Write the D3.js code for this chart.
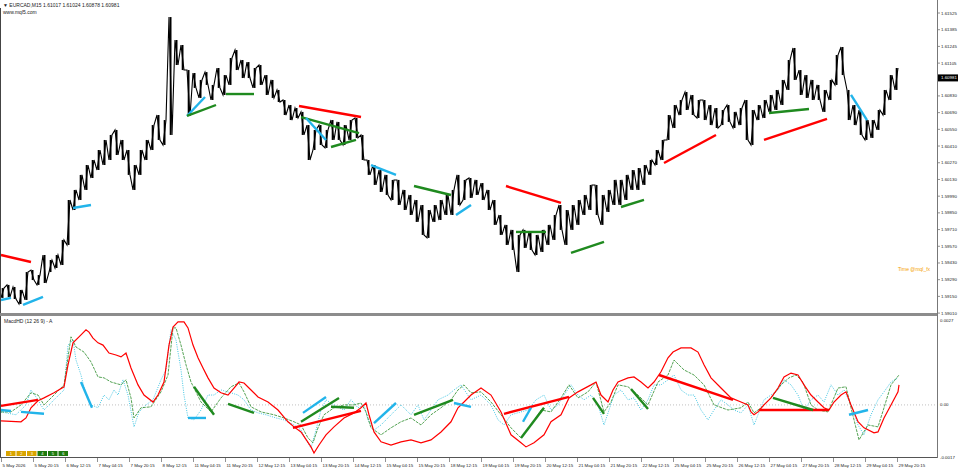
<!DOCTYPE html>
<html><head><meta charset="utf-8">
<script src="https://cdn.jsdelivr.net/npm/d3@7"></script>
<style>
body{margin:0;background:#fff}
svg{display:block}
text{font-family:"Liberation Sans",Arial,sans-serif;fill:#222}
</style>
</head><body>
<svg id="chart" width="960" height="472"></svg>
<script>
// time unit: trading hours from the first bar, one price sample every 3 hours
var priceHigh = [1.59220,1.59246,1.59229,1.59204,1.59354,1.59371,1.59329,1.59497,1.59455,1.59497,
1.59623,1.59958,1.60042,1.60168,1.60251,1.60293,1.60377,1.60461,1.60503,1.60545,
1.60461,1.60377,1.60251,1.60377,1.60461,1.60586,1.60670,1.60628,1.61491,1.61299,
1.61257,1.61047,1.61022,1.60964,1.61030,1.60922,1.61064,1.61005,1.61148,1.61215,
1.61131,1.61114,1.61064,1.61089,1.61005,1.60964,1.60880,1.60796,1.60754,1.60729,
1.60696,1.60586,1.60545,1.60586,1.60545,1.60628,1.60612,1.60586,1.60628,1.60645,
1.60503,1.60293,1.60251,1.60209,1.60168,1.60126,1.60126,1.60042,1.60000,1.59958,
1.59916,1.59874,1.59916,1.59958,1.60000,1.60042,1.60168,1.60126,1.60142,1.60126,
1.60100,1.60042,1.59958,1.59832,1.59749,1.59707,1.59665,1.59707,1.59690,1.59665,
1.59707,1.59749,1.59832,1.59916,1.59874,1.59916,1.59958,1.60000,1.60084,1.60084,
1.60000,1.60042,1.60126,1.60126,1.60168,1.60209,1.60226,1.60251,1.60293,1.60377,
1.60461,1.60670,1.60754,1.60796,1.60863,1.60838,1.60796,1.60796,1.60754,1.60729,
1.60712,1.60754,1.60696,1.60729,1.60796,1.60712,1.60754,1.60796,1.60838,1.60880,
1.60964,1.61131,1.61232,1.61047,1.61005,1.60964,1.60922,1.60880,1.60964,1.61173,
1.61240,1.60880,1.60754,1.60712,1.60628,1.60628,1.60712,1.60880,1.61005,1.61064];
var priceLow = [1.59137,1.59145,1.59128,1.59086,1.59120,1.59287,1.59246,1.59262,1.59354,1.59388,
1.59413,1.59581,1.59874,1.59958,1.60042,1.60142,1.60209,1.60251,1.60293,1.60335,
1.60293,1.60168,1.60042,1.60168,1.60293,1.60377,1.60461,1.60419,1.60503,1.61089,
1.61047,1.60662,1.60897,1.60813,1.60922,1.60796,1.60897,1.60838,1.60922,1.61047,
1.60980,1.60980,1.60897,1.60922,1.60838,1.60813,1.60779,1.60670,1.60628,1.60645,
1.60503,1.60293,1.60377,1.60419,1.60394,1.60461,1.60461,1.60419,1.60461,1.60478,
1.60293,1.60168,1.60084,1.60025,1.60000,1.59958,1.59916,1.59874,1.59832,1.59774,
1.59665,1.59640,1.59774,1.59790,1.59832,1.59832,1.59916,1.59958,1.59975,1.60000,
1.59958,1.59874,1.59749,1.59665,1.59581,1.59539,1.59354,1.59556,1.59539,1.59497,
1.59522,1.59581,1.59623,1.59707,1.59581,1.59707,1.59749,1.59832,1.59874,1.59832,
1.59749,1.59857,1.59916,1.59916,1.59958,1.60042,1.60042,1.60084,1.60168,1.60251,
1.60293,1.60461,1.60561,1.60670,1.60712,1.60670,1.60645,1.60628,1.60586,1.60561,
1.60586,1.60612,1.60561,1.60586,1.60461,1.60419,1.60628,1.60645,1.60696,1.60712,
1.60754,1.60880,1.60964,1.60838,1.60813,1.60796,1.60796,1.60696,1.60796,1.60922,
1.61005,1.60628,1.60586,1.60503,1.60461,1.60478,1.60545,1.60670,1.60796,1.60880];

// MACD panel lines: [hour, value]
var macdRed = [[0,-0.00050],[10,-0.00053],[12.5,-0.00041],[15,-0.00009],[18.5,0.00013],[21.5,0.00022],[26.5,0.00038],[31.5,0.00057],
[33.5,0.00126],[36,0.00195],[40,0.00220],[42.5,0.00236],[44,0.00229],[46,0.00210],[48.5,0.00195],[51,0.00188],[54,0.00163],
[57.5,0.00157],[60,0.00151],[62.5,0.00163],[65,0.00116],[68.5,0.00063],[71.5,0.00031],[76,0.00009],[78.5,0.00031],[81.5,0.00072],
[84,0.00188],[86,0.00245],[88.5,0.00261],[91.5,0.00261],[93.5,0.00242],[96,0.00188],[98.5,0.00148],[101,0.00116],[103.5,0.00085],
[106.5,0.00053],[110,0.00038],[113.5,0.00031],[116.5,0.00053],[119,0.00072],[121.5,0.00069],[125,0.00047],[128.5,0.00025],
[133.5,0.00009],[138.5,-0.00016],[143.5,-0.00053],[146.5,-0.00069],[150,-0.00085],[155,-0.00132],[156.5,-0.00151],[159,-0.00126],
[162.5,-0.00094],[166.5,-0.00069],[171.5,-0.00041],[176.5,-0.00025],[180,-0.00009],[182.5,0.00006],[184,-0.00031],[186.5,-0.00085],
[190,-0.00116],[195,-0.00126],[200,-0.00116],[205,-0.00110],[210,-0.00119],[215,-0.00110],[220,-0.00085],[225,-0.00053],
[228.5,-0.00009],[231.5,0.00009],[235,0.00031],[240,0.00053],[245,0.00031],[250,-0.00022],[255,-0.00094],[260,-0.00119],
[262.5,-0.00132],[266.5,-0.00119],[271.5,-0.00094],[275,-0.00053],[280,-0.00031],[284,0.00022],[288.5,0.00041],[295,0.00063],
[297.5,0.00072],[300,0.00031],[303.5,0.00009],[306,0.00047],[308.5,0.00072],[313.5,0.00085],[316.5,0.00088],[320,0.00072],
[323.5,0.00053],[326.5,0.00072],[330,0.00104],[333.5,0.00148],[336,0.00166],[340,0.00179],[345,0.00179],[348.5,0.00166],
[351.5,0.00126],[355,0.00085],[360,0.00053],[365,0.00022],[370,0.00009],[373.5,0.00000],[375,-0.00022],[376.5,-0.00031],
[378.5,-0.00022],[381.5,0.00000],[385,0.00022],[388.5,0.00053],[391.5,0.00088],[395,0.00100],[398.5,0.00094],[401.5,0.00063],
[405,0.00031],[408.5,0.00009],[411.5,-0.00009],[414,-0.00016],[416.5,0.00009],[420,0.00031],[422.5,0.00041],[425,0.00000],
[428.5,-0.00053],[431.5,-0.00072],[436.5,-0.00088],[438.5,-0.00085],[441.5,-0.00041],[445,0.00000],[448.5,0.00041],[449,0.00063]];

var macdGreen = [[0,-0.00022],[5,-0.00022],[10,0.00000],[15,0.00038],[18.5,0.00031],[21.5,0.00000],[26.5,0.00031],[31.5,0.00063],
[35,0.00214],[37.5,0.00182],[41.5,0.00166],[45,0.00135],[48.5,0.00088],[51.5,0.00085],[55,0.00072],[60,0.00063],[62.5,0.00079],
[65,0.00022],[66.5,-0.00041],[70,-0.00009],[75,-0.00006],[80,0.00041],[83.5,0.00094],[86,0.00242],[87.5,0.00242],[90,0.00188],
[92.5,0.00126],[95,0.00072],[100,0.00009],[105,-0.00022],[110,0.00022],[115,0.00057],[119,0.00069],[121.5,0.00041],[125,-0.00006],
[130,-0.00022],[136.5,-0.00031],[141.5,-0.00041],[146.5,-0.00053],[150,-0.00063],[153.5,-0.00104],[156,-0.00119],[158.5,-0.00072],
[161.5,-0.00031],[166.5,-0.00009],[171.5,0.00000],[176.5,0.00000],[180,0.00006],[182.5,-0.00022],[185,-0.00072],[190,-0.00094],
[195,-0.00072],[200,-0.00053],[205,-0.00041],[210,-0.00063],[215,-0.00031],[220,-0.00009],[225,0.00016],[228.5,0.00047],
[231.5,0.00063],[235,0.00038],[240,0.00041],[245,0.00009],[250,-0.00031],[255,-0.00072],[260,-0.00104],[265,-0.00063],
[270,-0.00016],[275,-0.00022],[280,0.00022],[284,0.00063],[288.5,0.00022],[293.5,0.00041],[297.5,0.00072],[301.5,-0.00022],
[305,0.00009],[308.5,0.00063],[313.5,0.00057],[318.5,0.00031],[323.5,0.00000],[328.5,0.00072],[333.5,0.00094],[336.5,0.00141],
[341.5,0.00110],[346.5,0.00094],[351.5,0.00063],[356.5,0.00000],[363.5,-0.00016],[370,-0.00009],[373.5,0.00009],[376.5,-0.00025],
[380,-0.00009],[385,0.00022],[390,0.00063],[394,0.00085],[397.5,0.00094],[401,0.00072],[405,0.00000],[408.5,-0.00016],
[413.5,-0.00022],[418.5,0.00053],[422.5,0.00057],[425,-0.00009],[429,-0.00110],[433.5,-0.00063],[438.5,-0.00069],[441.5,-0.00009],
[445,0.00063],[449,0.00094]];

var macdCyan = [[0,-0.00022],[7.5,-0.00031],[12.5,0.00000],[15,0.00047],[18.5,0.00016],[21.5,-0.00016],[26.5,0.00016],[31.5,0.00047],
[33.5,0.00188],[36,0.00204],[37.5,0.00141],[40,0.00094],[42.5,0.00031],[45,0.00000],[48.5,-0.00009],[51.5,0.00031],[54,0.00016],
[56.5,0.00047],[58.5,0.00031],[61,0.00079],[63.5,0.00031],[66.5,-0.00069],[69,-0.00022],[72.5,0.00000],[76,0.00016],[80,0.00079],
[82.5,0.00110],[85,0.00236],[87.5,0.00204],[90,0.00110],[91.5,0.00031],[93.5,-0.00041],[96.5,-0.00047],[100,-0.00016],
[103.5,0.00031],[106.5,0.00031],[110,0.00047],[115,0.00038],[118.5,0.00031],[121.5,0.00016],[125,-0.00016],[128.5,-0.00025],
[132.5,-0.00031],[137.5,-0.00041],[141.5,-0.00047],[146.5,-0.00063],[150,-0.00079],[152.5,-0.00110],[155,-0.00135],[157.5,-0.00079],
[160,-0.00016],[162.5,0.00016],[166.5,0.00000],[171.5,-0.00016],[175,0.00016],[178.5,-0.00009],[181.5,0.00000],[183.5,-0.00047],
[186.5,-0.00079],[190,-0.00063],[195,-0.00031],[200,0.00000],[205,-0.00031],[208.5,0.00000],[211.5,-0.00047],[215,-0.00016],
[218.5,0.00016],[223.5,0.00031],[226.5,0.00047],[230,0.00063],[235,0.00016],[240,0.00031],[245,0.00000],[248.5,-0.00047],
[251.5,-0.00063],[255,-0.00031],[260,-0.00022],[263.5,-0.00016],[267.5,0.00016],[271.5,0.00031],[275,-0.00016],[278.5,0.00000],
[281.5,0.00031],[285,0.00063],[288.5,0.00031],[291.5,0.00016],[295,0.00031],[298.5,0.00000],[301.5,-0.00063],[304,-0.00016],
[306.5,0.00031],[310,0.00047],[313.5,0.00016],[316.5,0.00022],[320,-0.00016],[323.5,0.00016],[326.5,0.00063],[330,0.00063],
[333.5,0.00079],[336.5,0.00094],[340,0.00047],[343.5,0.00031],[346.5,0.00031],[350,-0.00016],[353.5,-0.00047],[356.5,-0.00016],
[360,0.00016],[363.5,0.00000],[366.5,-0.00016],[370,-0.00025],[373.5,0.00000],[376.5,-0.00063],[378.5,-0.00031],[381.5,0.00016],
[385,0.00031],[388.5,0.00047],[391.5,0.00079],[395,0.00063],[398.5,0.00031],[401.5,-0.00016],[405,0.00016],[408.5,0.00031],
[411.5,0.00009],[415,0.00063],[418.5,0.00031],[421.5,0.00047],[425,0.00000],[428.5,-0.00063],[431.5,-0.00094],[435,-0.00031],
[438.5,0.00016],[441.5,0.00041],[445,0.00072],[448.5,0.00085]];

// divergence lines: [t1, v1, t2, v2, kind]
var priceDiv = [[0,1.59497,15,1.59438,"r"],[0,1.59120,5,1.59137,"b"],[11,1.59078,21,1.59145,"b"],[36,1.59891,45,1.59916,"b"],
[93,1.60662,102,1.60821,"b"],[93,1.60662,107.5,1.60754,"g"],[112.5,1.60846,126.5,1.60846,"g"],[149,1.60746,180,1.60653,"r"],
[150,1.60653,179,1.60519,"g"],[152.5,1.60645,162.5,1.60461,"b"],[165,1.60402,177.5,1.60461,"g"],[185,1.60251,197.5,1.60168,"b"],
[206.5,1.60075,225,1.60000,"g"],[227.5,1.59832,235,1.59916,"b"],[252.5,1.60075,280,1.59933,"r"],[257.5,1.59690,272.5,1.59690,"g"],
[285,1.59514,301.5,1.59606,"g"],[310,1.59899,321.5,1.59958,"g"],[331.5,1.60268,357.5,1.60503,"r"],[384,1.60687,404,1.60721,"g"],
[381.5,1.60461,413,1.60637,"r"],[425,1.60838,433,1.60628,"b"]];
var macdDiv = [[0,-0.00003,18.5,0.00016,"r"],[0,-0.00016,5,-0.00019,"b"],[10,-0.00022,21.5,-0.00028,"b"],[40,0.00072,45.5,-0.00009,"b"],
[93.5,-0.00041,102.5,-0.00041,"b"],[96.5,0.00057,106.5,-0.00031,"g"],[113.5,0.00003,126.5,-0.00025,"g"],[146,-0.00072,180,-0.00019,"r"],
[151,-0.00025,162.5,0.00025,"b"],[150,-0.00053,169,0.00022,"g"],[165,-0.00006,176.5,-0.00009,"g"],[186.5,-0.00057,197.5,0.00006,"b"],
[206.5,-0.00031,226,0.00016,"g"],[226.5,0.00006,235,-0.00006,"b"],[251.5,-0.00028,284,0.00025,"r"],[261,-0.00053,265,-0.00009,"b"],
[260,-0.00104,271.5,-0.00009,"g"],[296,0.00022,301.5,-0.00028,"g"],[315,0.00050,323.5,-0.00013,"g"],[329,0.00094,366,0.00016,"r"],
[379,-0.00016,414,-0.00016,"r"],[386,0.00022,406,-0.00016,"g"],[424,-0.00031,433.5,-0.00016,"b"]];

var priceTicks = [1.61525,1.61385,1.61245,1.61105,1.60830,1.60690,1.60550,1.60410,1.60270,1.60130,1.59990,1.59850,1.59710,1.59570,1.59430,1.59290,1.59150,1.59010];
var lastPrice = 1.60981;
var macdTicks = [0.0027, 0, -0.0017];
var macdTickLabels = ["0.0027", "0.00", "-0.0017"];
var dateLabels = ["5 May 2026","5 May 20:15","6 May 12:15","7 May 04:15","7 May 20:15","8 May 12:15","11 May 04:15","11 May 20:15",
"12 May 12:15","13 May 04:15","13 May 20:15","14 May 12:15","15 May 04:15","15 May 20:15","18 May 12:15","19 May 04:15","19 May 20:15",
"20 May 12:15","21 May 04:15","21 May 20:15","22 May 12:15","25 May 04:15","25 May 20:15","26 May 12:15","27 May 04:15","27 May 20:15",
"28 May 12:15","29 May 04:15","29 May 20:15"];
var buttons = [["1","y"],["2","y"],["3","y"],["4","g"],["5","g"],["6","g"]];

var colors = {r:"#ff0000", g:"#1f8a1f", b:"#22b4ea"};

var svg = d3.select("#chart");
var x = d3.scaleLinear().domain([0, 450]).range([1, 901]);
var y = d3.scaleLinear().domain([1.58994, 1.61634]).range([315, 0]);
var yM = d3.scaleLinear().domain([-0.0017, 0.0027]).range([459, 319]);

// price band: each 3h sample drawn as a high-low stroke, joined in the direction of travel
var pts = [];
priceHigh.forEach(function(h, i) {
	var next = i < priceHigh.length - 1 ? priceHigh[i + 1] : h;
	var up = next >= h;
	var a = up ? priceLow[i] : h, b = up ? h : priceLow[i];
	pts.push([x(i * 3), y(a)]);
	pts.push([x(i * 3 + 1.5), y(b)]);
});
svg.append("path")
	.attr("d", d3.line()(pts))
	.attr("fill", "none")
	.attr("stroke", "#000")
	.attr("stroke-width", 1.1);
svg.selectAll(".bar").data(priceHigh).enter().append("line")
	.attr("x1", function(d, i) { return x(i * 3 + 0.8); })
	.attr("x2", function(d, i) { return x(i * 3 + 0.8); })
	.attr("y1", function(d) { return y(d); })
	.attr("y2", function(d, i) { return y(priceLow[i]); })
	.attr("stroke", "#000").attr("stroke-width", 1.8);

// divergence lines on price
svg.selectAll(".pdiv").data(priceDiv).enter().append("line")
	.attr("x1", function(d) { return x(d[0]); }).attr("y1", function(d) { return y(d[1]); })
	.attr("x2", function(d) { return x(d[2]); }).attr("y2", function(d) { return y(d[3]); })
	.attr("stroke", function(d) { return colors[d[4]]; })
	.attr("stroke-width", 2.4);

// macd panel
svg.append("line").attr("x1", 1).attr("x2", 937).attr("y1", yM(0)).attr("y2", yM(0))
	.attr("stroke", "#b0b0b0").attr("stroke-width", 0.8).attr("stroke-dasharray", "1,2");
var mline = d3.line().x(function(d) { return x(d[0]); }).y(function(d) { return yM(d[1]); });
svg.append("path").attr("d", mline(macdCyan)).attr("fill", "none")
	.attr("stroke", "#30c0e0").attr("stroke-width", 0.9).attr("stroke-dasharray", "1,1.3");
svg.append("path").attr("d", mline(macdGreen)).attr("fill", "none")
	.attr("stroke", "#2a8c2a").attr("stroke-width", 0.8).attr("stroke-dasharray", "3,1");
svg.append("path").attr("d", mline(macdRed)).attr("fill", "none")
	.attr("stroke", "#ff0000").attr("stroke-width", 1.2);
svg.selectAll(".mdiv").data(macdDiv).enter().append("line")
	.attr("x1", function(d) { return x(d[0]); }).attr("y1", function(d) { return yM(d[1]); })
	.attr("x2", function(d) { return x(d[2]); }).attr("y2", function(d) { return yM(d[3]); })
	.attr("stroke", function(d) { return colors[d[4]]; })
	.attr("stroke-width", 2.4);

// frame
svg.append("line").attr("x1", 0.5).attr("x2", 0.5).attr("y1", 8).attr("y2", 458).attr("stroke", "#444");
svg.append("rect").attr("x", 0).attr("y", 313).attr("width", 937).attr("height", 3).attr("fill", "#8c8c8c");
svg.append("line").attr("x1", 0).attr("x2", 937).attr("y1", 457.5).attr("y2", 457.5).attr("stroke", "#555");
svg.append("line").attr("x1", 937.5).attr("x2", 937.5).attr("y1", 0).attr("y2", 458).attr("stroke", "#777");

// price axis
var ax = svg.append("g").style("font-size", "4.4px");
ax.selectAll(".pt").data(priceTicks).enter().append("line")
	.attr("x1", 937).attr("x2", 940).attr("y1", function(d) { return y(d); }).attr("y2", function(d) { return y(d); })
	.attr("stroke", "#777").attr("stroke-width", 0.8);
ax.selectAll(".pl").data(priceTicks).enter().append("text")
	.attr("x", 941).attr("y", function(d) { return y(d) + 1.5; })
	.text(function(d) { return d.toFixed(5); });
ax.append("rect").attr("x", 938).attr("y", y(lastPrice) - 3.5).attr("width", 20).attr("height", 7).attr("fill", "#000");
ax.append("text").attr("x", 941).attr("y", y(lastPrice) + 1.5).style("fill", "#fff").text(lastPrice.toFixed(5));

ax.selectAll(".mt").data(macdTicks).enter().append("text")
	.attr("x", 940).attr("y", function(d, i) { return i == 0 ? 321.5 : (i == 2 ? 459 : yM(d) + 1.5); })
	.text(function(d, i) { return macdTickLabels[i]; });

// date axis
ax.selectAll(".dt").data(dateLabels).enter().append("line")
	.attr("x1", function(d, i) { return x(i * 16) + 0.5; }).attr("x2", function(d, i) { return x(i * 16) + 0.5; })
	.attr("y1", 458).attr("y2", 462).attr("stroke", "#777").attr("stroke-width", 0.8);
ax.selectAll(".dl").data(dateLabels).enter().append("text")
	.attr("x", function(d, i) { return x(i * 16) + 1.5; }).attr("y", 467)
	.text(function(d) { return d; });

// header texts
svg.append("text").attr("x", 3).attr("y", 6.5).style("font-size", "5px").text("\u25BC EURCAD,M15  1.61017 1.61024 1.60878 1.60981");
svg.append("text").attr("x", 3).attr("y", 13.5).style("font-size", "5px").text("www.mql5.com");
svg.append("text").attr("x", 4).attr("y", 322.5).style("font-size", "5px").text("MacdHD (12 26 9) - A");
svg.append("text").attr("x", 898).attr("y", 271).style("font-size", "5px").style("fill", "#f5a000").text("Time @mql_fx");

// buttons
var bw = 9.5;
var bg = svg.append("g");
bg.selectAll("rect").data(buttons).enter().append("rect")
	.attr("x", function(d, i) { return 6 + i * (bw + 1); }).attr("y", 451).attr("width", bw).attr("height", 5)
	.attr("fill", function(d) { return d[1] == "y" ? "#d9a400" : "#1e7a10"; });
bg.selectAll("text").data(buttons).enter().append("text")
	.attr("x", function(d, i) { return 6 + i * (bw + 1) + bw / 2; }).attr("y", 455.2)
	.attr("text-anchor", "middle").style("font-size", "4px").style("fill", "#fff")
	.text(function(d) { return d[0]; });
</script>
</body></html>
